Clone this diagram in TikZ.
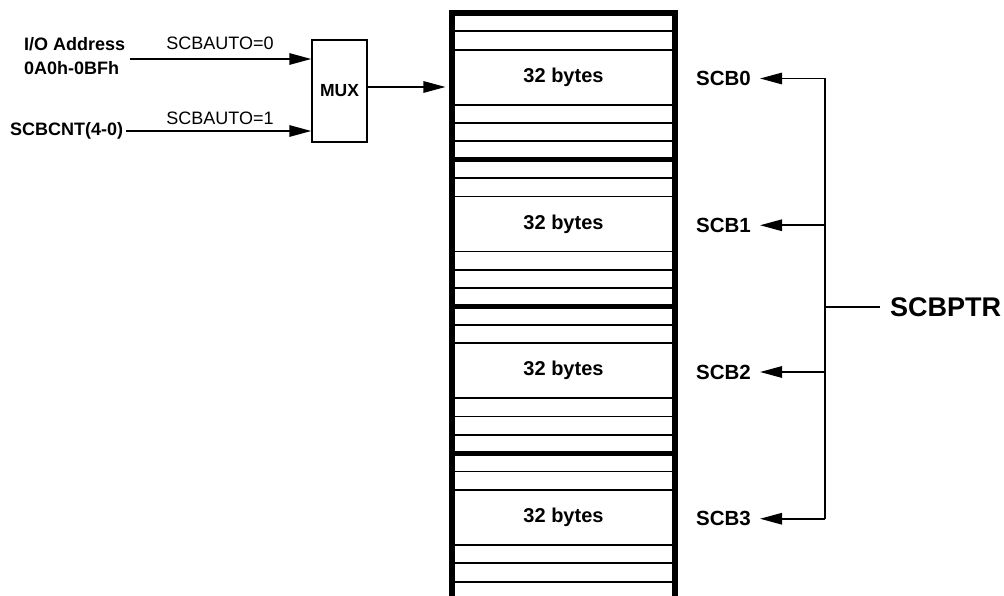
\documentclass[tikz,border=0pt]{standalone}
\usepackage{fontspec}
\setmainfont{Liberation Sans}
\usetikzlibrary{arrows.meta}
\begin{document}
\begin{tikzpicture}[x=1pt,y=-1pt,
  wire/.style={line width=1.5pt},
  arr/.style={line width=1.5pt,-{Triangle[length=22pt,width=11.5pt]}},
  boldlbl/.style={inner sep=0pt,font=\bfseries\fontsize{18}{24}\selectfont},
  autolbl/.style={inner sep=0pt,font=\fontsize{18}{21}\selectfont},
  bytelbl/.style={inner sep=0pt,font=\bfseries\fontsize{20}{24}\selectfont},
  scblbl/.style={inner sep=0pt,anchor=west,font=\bfseries\fontsize{20.5}{24}\selectfont},
  rowline/.style={line width=1.8pt},
  sepline/.style={line width=5.5pt},
]
\useasboundingbox (0,0) rectangle (1004,596);

% memory block
\node[draw,line width=6.5pt,minimum width=223pt,minimum height=587pt,inner sep=0pt] (mem) at (563.5,306.5) {};
\foreach \i in {0,1,2,3}{
  \pgfmathsetmacro{\t}{13+146.75*\i}
  \foreach \r in {1,2,5,6,7}{
    \draw[rowline] (452,\t+18.34*\r) -- (675,\t+18.34*\r);
  }
  \ifnum\i>0
    \draw[sepline] (452,\t) -- (675,\t);
  \fi
  \node[bytelbl] (b\i) at (563.5,\t+64.2) {32 bytes};
  \node[scblbl] (s\i) at (696,\t+65.5) {SCB\i};
  \coordinate (j\i) at (825,\t+65.5);
  \draw[arr,shorten >=9pt] (j\i) -- (s\i.east);
}
\draw[wire] (j0) -- (j3);
\coordinate (jp) at (825,307);
\node[inner sep=0pt,anchor=west,font=\bfseries\fontsize{27}{30}\selectfont] (ptr) at (890,307) {SCBPTR};
\draw[wire,shorten >=10pt] (jp) -- (ptr.west);

% MUX
\node[draw,line width=1.5pt,minimum width=55pt,minimum height=102pt,inner sep=0pt,
      font=\bfseries\fontsize{17.5}{20}\selectfont] (mux) at (339.5,91) {MUX};
\draw[arr] ([yshift=4pt]mux.east) -- ([yshift=4pt,xshift=-3.3pt]mux.east -| mem.west);

% inputs
\node[boldlbl,anchor=west,align=left] (io) at (24,56) {I/O Address\\0A0h-0BFh};
\coordinate (in0) at (130,59);
\draw[arr] (in0) -- (mux.west |- in0);
\node[autolbl] (a0) at (220,43) {SCBAUTO=0};

\node[boldlbl,anchor=west] (cnt) at (10,131) {SCBCNT(4-0)};
\draw[arr] ([xshift=3pt]cnt.east) -- (mux.west |- cnt.east);
\node[autolbl] (a1) at (220,118) {SCBAUTO=1};
\end{tikzpicture}
\end{document}
